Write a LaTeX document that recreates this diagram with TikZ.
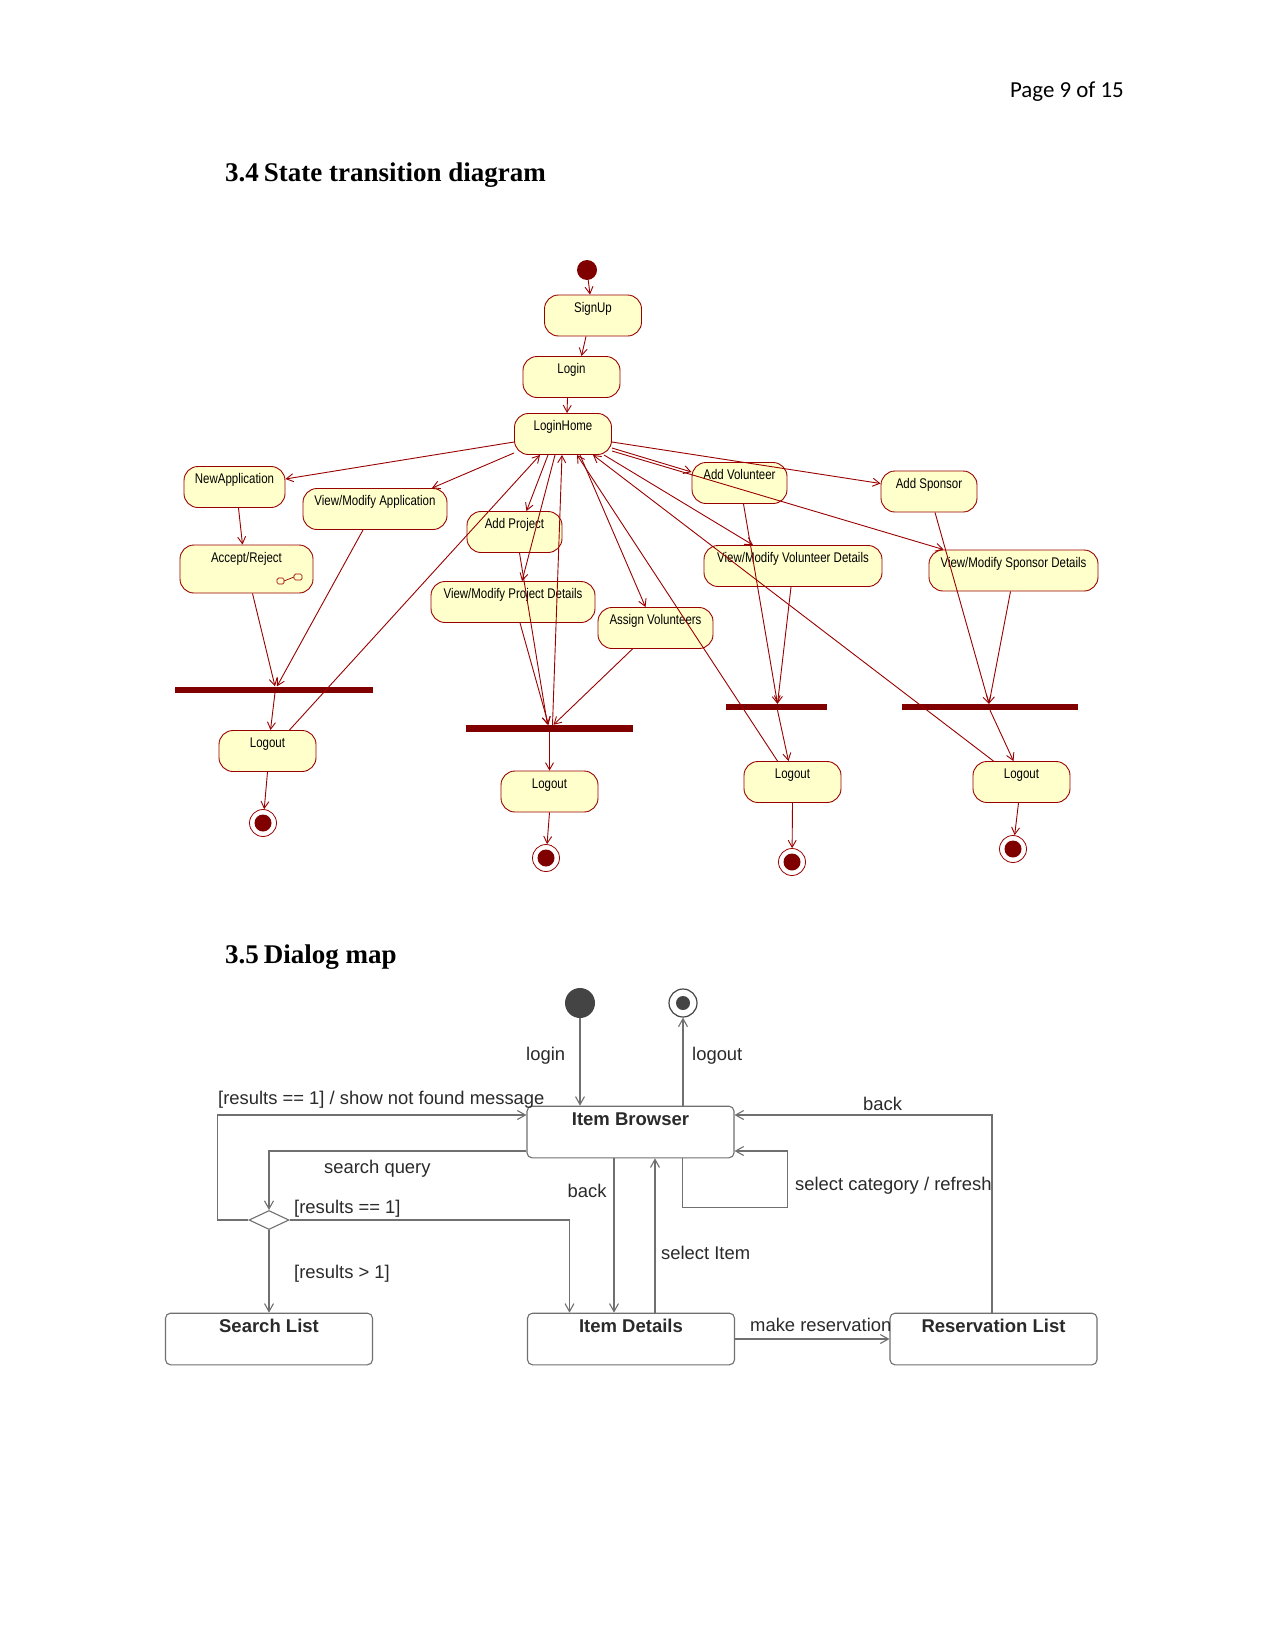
\documentclass[tikz,border=0pt]{standalone}
\usepackage{fontspec}
\setmainfont{Liberation Serif}
\newfontfamily\umlfont[FakeStretch=0.82]{Liberation Sans}
\newfontfamily\dlgfont{Liberation Sans}
\newfontfamily\pagefont{Carlito}
\usetikzlibrary{arrows.meta,shapes.geometric}
\definecolor{ured}{HTML}{990000}
\definecolor{ubar}{HTML}{800000}
\definecolor{uyel}{HTML}{FFFFCC}
\definecolor{dgray}{HTML}{707070}
\definecolor{dtext}{HTML}{2A2A2A}
\definecolor{ddot}{HTML}{444444}
\tikzset{
  st/.style={draw=ured, fill=uyel, line width=0.9pt, rounded corners=14pt,
    minimum height=41pt, inner ysep=2pt, inner xsep=4pt, text height=15pt, text depth=22pt,
    font=\umlfont\fontsize{14}{16}\selectfont},
  ubarnode/.style={fill=ubar, inner sep=0pt, minimum height=6pt},
  uinit/.style={circle, fill=ubar, minimum size=20pt, inner sep=0pt},
  ufinal/.style={circle, draw=ured, fill=white, line width=0.8pt, minimum size=27pt, inner sep=0pt,
    path picture={\fill[ubar] (path picture bounding box.center) circle (8.5pt);}},
  uarr/.style={draw=ured, line width=0.9pt, -{Straight Barb[length=7pt,width=8pt,line width=0.9pt]}},
  dbox/.style={draw=dgray, line width=1.1pt, rounded corners=5pt, fill=white,
    minimum width=207pt, minimum height=51.5pt, inner ysep=3pt, text height=16.6pt, text depth=29pt,
    font=\dlgfont\bfseries\fontsize{18.5}{20}\selectfont, text=dtext},
  ddia/.style={diamond, draw=dgray, line width=1.1pt, fill=white, aspect=2.1,
    minimum width=40pt, minimum height=19pt, inner sep=0pt},
  dinitst/.style={circle, fill=ddot, minimum size=30pt, inner sep=0pt},
  dfinalst/.style={circle, draw=ddot, fill=white, line width=1.2pt, minimum size=28pt, inner sep=0pt,
    path picture={\fill[ddot] (path picture bounding box.center) circle (7pt);}},
  darr/.style={draw=dgray, line width=1.1pt, -{Straight Barb[length=8pt,width=9pt,line width=1.1pt]}},
  dlab/.style={font=\dlgfont\fontsize{18.4}{20}\selectfont, text=dtext, inner sep=0pt, anchor=west},
  head/.style={font=\bfseries\fontsize{27}{30}\selectfont, inner sep=0pt, anchor=west}
}
\begin{document}
\begin{tikzpicture}[x=1pt,y=-1pt]
\useasboundingbox[fill=white] (0,0) rectangle (1275,1651);

% headings
\node[font=\pagefont\fontsize{22.9}{26}\selectfont, inner sep=0pt, anchor=east] (page) at (1124,92) {Page 9 of 15};
\node[head] (h34) at (225,175) {3.4\hspace{5pt}State transition diagram};
\node[head] (h35) at (225,957) {3.5\hspace{5pt}Dialog map};

% ---------- state transition diagram ----------
\node[uinit] (init) at (587,270) {};
\node[st, minimum width=97pt] (signup) at (593,315.5) {SignUp};
\node[st, minimum width=97pt] (login) at (571.5,377) {Login};
\node[st, minimum width=97pt] (home) at (563,434) {LoginHome};
\node[st, minimum width=101pt] (newapp) at (234.5,487) {NewApplication};
\node[st, minimum width=144pt] (vma) at (375,509) {View/Modify Application};
\node[st, minimum width=95pt] (addproj) at (514.5,532) {Add Project};
\node[st, minimum width=133pt, minimum height=48pt, text depth=29pt] (accrej) at (246.5,569) {Accept/Reject};
\node[st, minimum width=95pt] (addvol) at (739.5,483) {Add Volunteer};
\node[st, minimum width=96pt] (addspon) at (929,491.5) {Add Sponsor};
\node[st, minimum width=178pt] (vmvd) at (793,566) {View/Modify Volunteer Details};
\node[st, minimum width=169pt] (vmsd) at (1013.5,570.5) {View/Modify Sponsor Details};
\node[st, minimum width=164pt] (vmpd) at (513,602) {View/Modify Project Details};
\node[st, minimum width=115pt] (assign) at (655.5,628) {Assign Volunteers};

\node[ubarnode, minimum width=198pt] (bar1) at (274,689.5) {};
\node[ubarnode, minimum width=167pt, minimum height=7pt] (bar2) at (549.5,728.5) {};
\node[ubarnode, minimum width=101pt] (bar3) at (776.5,707) {};
\node[ubarnode, minimum width=176pt] (bar4) at (990,707) {};

\node[st, minimum width=97pt] (logout1) at (267.5,751) {Logout};
\node[st, minimum width=97pt] (logout2) at (549.5,791.5) {Logout};
\node[st, minimum width=97pt] (logout3) at (792.5,782) {Logout};
\node[st, minimum width=97pt] (logout4) at (1021.5,782) {Logout};

\node[ufinal] (fin1) at (263,823) {};
\node[ufinal] (fin2) at (546,858) {};
\node[ufinal] (fin3) at (792,862) {};
\node[ufinal] (fin4) at (1013,849) {};

% small icon in Accept/Reject
\draw[ured, line width=0.7pt, rounded corners=1.5pt] (277,578) rectangle (284,584);
\draw[ured, line width=0.7pt, rounded corners=1.5pt] (294,574) rectangle (302,580);
\draw[ured, line width=0.7pt] (284,581) -- (294,577);

% edges
\draw[uarr] (init) -- ([xshift=-3pt]signup.north);
\draw[uarr] ([xshift=-7pt]signup.south) -- ([xshift=10pt]login.north);
\draw[uarr] ([xshift=-4pt]login.south) -- ([xshift=4pt]home.north);
\draw[uarr] ([yshift=-8pt]home.west) -- ([yshift=8pt]newapp.east);
\draw[uarr] ([yshift=2pt]home.south west) -- ([xshift=57pt]vma.north);
\draw[uarr] ([xshift=-15pt]home.south) -- ([xshift=12pt]addproj.north);
\draw[uarr] ([xshift=-8pt]home.south) -- ([xshift=9pt]vmpd.north);
\draw[uarr] ([xshift=17pt]home.south) -- ([xshift=-10pt]assign.north);
\draw[uarr] ([xshift=-8pt]home.south east) -- ([xshift=-40pt]vmvd.north);
\draw[uarr] ([yshift=-14pt]home.east) -- ([yshift=11pt]addvol.west);
\draw[uarr] ([yshift=-17pt]home.east) -- ([xshift=-70pt]vmsd.north);
\draw[uarr] ([yshift=-8pt]home.east) -- ([yshift=8pt]addspon.west);
\draw[uarr] ([xshift=4pt]newapp.south) -- ([xshift=-4pt]accrej.north);
\draw[uarr] ([xshift=6pt]accrej.south) -- ([xshift=1pt]bar1.north);
\draw[uarr] ([xshift=-12pt]vma.south) -- ([xshift=3pt]bar1.north);
\draw[uarr] ([xshift=1pt]bar1.south) -- ([xshift=3pt]logout1.north);
\draw[uarr] (logout1.south) -- (fin1);
\draw[uarr] ([xshift=-27pt]logout1.north east) -- ([xshift=-23pt]home.south);
\draw[uarr] ([xshift=5pt]addproj.south) -- ([xshift=-2pt]bar2.north);
\draw[uarr] ([xshift=7pt]vmpd.south) -- ([xshift=-1pt]bar2.north);
\draw[uarr] ([xshift=-23pt]assign.south) -- ([xshift=4pt]bar2.north);
\draw[uarr] ([xshift=3pt]bar2.north) -- ([xshift=-1pt]home.south);
\draw[uarr, line width=1.8pt] (bar2.south) -- (logout2.north);
\draw[uarr] (logout2.south) -- (fin2);
\draw[uarr] ([xshift=-15pt]logout3.north) -- ([xshift=14pt]home.south);
\draw[uarr] ([xshift=-28pt]logout4.north) -- ([xshift=30pt]home.south);
\draw[uarr] ([xshift=4pt]addvol.south) -- ([xshift=1pt]bar3.north);
\draw[uarr] ([xshift=-2pt]vmvd.south) -- ([xshift=1pt]bar3.north);
\draw[uarr] ([xshift=1pt]bar3.south) -- ([xshift=-4pt]logout3.north);
\draw[uarr] (logout3.south) -- (fin3);
\draw[uarr] ([xshift=6pt]addspon.south) -- ([xshift=-1pt]bar4.north);
\draw[uarr] ([xshift=-3pt]vmsd.south) -- ([xshift=-1pt]bar4.north);
\draw[uarr] (bar4.south) -- ([xshift=-8pt]logout4.north);
\draw[uarr] ([xshift=-3pt]logout4.south) -- (fin4);

% ---------- dialog map ----------
\node[dinitst] (dinit) at (580,1003) {};
\node[dfinalst] (dfin) at (683,1003) {};
\node[dbox] (ib) at (630.5,1132) {Item Browser};
\node[dbox] (slist) at (269,1339) {Search List};
\node[dbox] (idet) at (631,1339) {Item Details};
\node[dbox] (rlist) at (993.5,1339) {Reservation List};
\node[ddia] (dia) at (269,1220) {};

\draw[darr] (dinit) -- ([xshift=-50.5pt]ib.north);
\draw[darr] ([xshift=52.5pt]ib.north) -- (dfin);
\draw[darr] ([yshift=-19pt]ib.west) -| (dia.north);
\draw[darr] (dia.west) -- ++(-31,0) |- ([yshift=17pt]ib.west);
\draw[darr] (dia.east) -| ([xshift=-61.5pt]idet.north);
\draw[darr] (dia.south) -- (slist.north);
\draw[darr] ([xshift=-16.5pt]ib.south) -- ([xshift=-17pt]idet.north);
\draw[darr] ([xshift=24pt]idet.north) -- ([xshift=24.5pt]ib.south);
\draw[darr] (idet.east) -- (rlist.west);
\draw[darr] ([xshift=-1.5pt]rlist.north) |- ([yshift=17pt]ib.east);
\draw[darr] ([xshift=52pt]ib.south) -- ++(0,49.5) -- ++(105,0) |- ([yshift=-19pt]ib.east);

\node[dlab] (llogin) at (526,1056) {login};
\node[dlab] (llogout) at (692,1056) {logout};
\node[dlab] (lnf) at (218,1100) {[results == 1] / show not found message};
\node[dlab] (lsq) at (324,1168.5) {search query};
\node[dlab] (lr1) at (294,1208.5) {[results == 1]};
\node[dlab] (lrg) at (294,1273.5) {[results > 1]};
\node[dlab] (lback1) at (567.5,1190.5) {back};
\node[dlab] (lsel) at (661,1252.5) {select Item};
\node[dlab] (lmake) at (750,1325) {make reservation};
\node[dlab] (lback2) at (863,1104) {back};
\node[dlab] (lcat) at (795,1186) {select category / refresh};
\end{tikzpicture}
\end{document}
